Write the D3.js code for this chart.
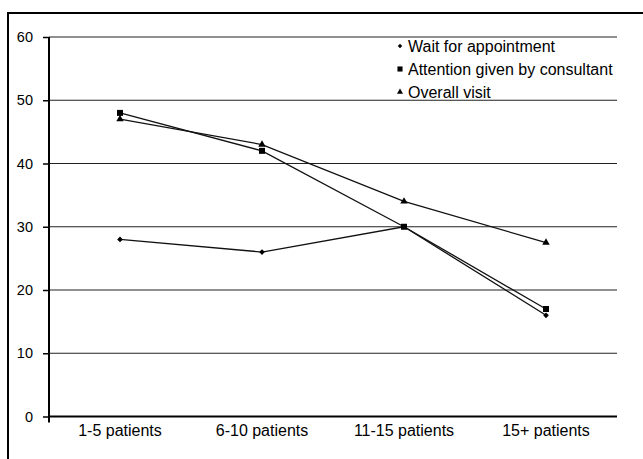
<!DOCTYPE html>
<html><head><meta charset="utf-8">
<script src="https://cdn.jsdelivr.net/npm/d3@7"></script>
<style>body{margin:0;background:#fff}svg{display:block}text{font-family:"Liberation Sans",Arial,Helvetica,sans-serif;fill:#000}</style>
</head><body>
<svg id="c" width="643" height="459"></svg>
<script>
const categories = ["1-5 patients", "6-10 patients", "11-15 patients", "15+ patients"];
const seriesNames = ["Wait for appointment", "Attention given by consultant", "Overall visit"];
const waitValues = [28, 26, 30, 16];
const attentionValues = [48, 42, 30, 17];
const overallValues = [47, 43, 34, 27.5];
const yTicks = [0, 10, 20, 30, 40, 50, 60];

(function () {
const series = [
  {name: seriesNames[0], values: waitValues, symbol: d3.symbolSquare, rot: 45, size: 16, lsize: 10},
  {name: seriesNames[1], values: attentionValues, symbol: d3.symbolSquare, rot: 0, size: 36, lsize: 26},
  {name: seriesNames[2], values: overallValues, symbol: d3.symbolTriangle, rot: 0, size: 24, lsize: 16}
];

const svg = d3.select("#c");
// outer frame
svg.append("rect").attr("x", 8).attr("y", 13).attr("width", 700).attr("height", 500)
  .attr("fill", "none").attr("stroke", "#000").attr("stroke-width", 2);

const pL = 49, pR = 617, pT = 37, pB = 416.5;
const x = d3.scaleBand().domain(categories).range([pL, pR]);
const y = d3.scaleLinear().domain([0, 60]).range([pB, pT]);

// gridlines
svg.append("g").selectAll("line").data(yTicks.filter(d => d > 0)).join("line")
  .attr("x1", pL).attr("x2", pR).attr("y1", d => y(d)).attr("y2", d => y(d))
  .attr("stroke", "#222").attr("stroke-width", 1.2);

// y axis
const yAxis = svg.append("g").attr("transform", `translate(${pL},0)`)
  .call(d3.axisLeft(y).tickValues(yTicks).tickSize(6).tickPadding(10));
yAxis.select(".domain").attr("stroke", "#000").attr("stroke-width", 2).attr("d", `M0,${pT}V${pB + 6}`);
yAxis.selectAll(".tick line").attr("stroke", "#000").attr("stroke-width", 1.5);
yAxis.selectAll("text").style("font-size", "14.5px").attr("fill", "#000");

// x axis
const xAxis = svg.append("g").attr("transform", `translate(0,${pB})`)
  .call(d3.axisBottom(x).tickSize(0).tickPadding(8));
xAxis.select(".domain").attr("stroke", "#000").attr("stroke-width", 2).attr("d", `M${pL},0H${pR}`);
xAxis.selectAll("text").style("font-size", "16px").attr("fill", "#000").attr("dy", "0.72em");

const line = d3.line().x((d, i) => x(categories[i]) + x.bandwidth() / 2).y(d => y(d));
const g = svg.append("g");
series.forEach(s => {
  g.append("path").datum(s.values).attr("d", line).attr("fill", "none")
    .attr("stroke", "#111").attr("stroke-width", 1.3);
  g.selectAll(null).data(s.values).join("path")
    .attr("transform", (d, i) => `translate(${x(categories[i]) + x.bandwidth() / 2},${y(d)}) rotate(${s.rot})`)
    .attr("d", d3.symbol().type(s.symbol).size(s.size)).attr("fill", "#000");
});

// legend
const leg = svg.append("g");
series.forEach((s, i) => {
  const yy = 46 + i * 23;
  leg.append("path").attr("transform", `translate(400,${yy}) rotate(${s.rot})`)
    .attr("d", d3.symbol().type(s.symbol).size(s.lsize)).attr("fill", "#000");
  leg.append("text").attr("x", 408).attr("y", yy).attr("dy", "0.35em")
    .style("font-size", "16px").text(s.name);
});
})();
</script>
</body></html>
